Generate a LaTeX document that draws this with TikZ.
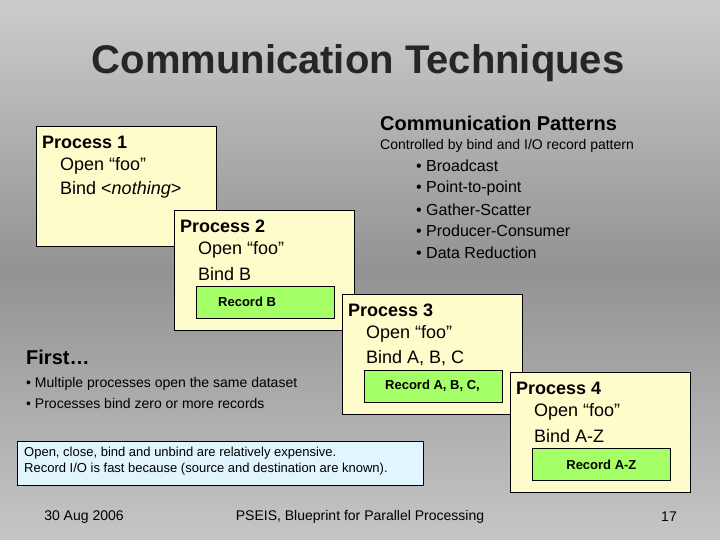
\documentclass[tikz,border=0pt]{standalone}
\usepackage{fontspec}
\setmainfont{Liberation Sans}
\begin{document}
\begin{tikzpicture}[x=1pt,y=-1pt,
  proc/.style={draw=black,line width=0.8pt,fill=yellow!20!white,minimum width=180pt,minimum height=120pt,anchor=north west,inner sep=0pt},
  rec/.style={draw=black,line width=0.8pt,fill=green!45!lime!60!white,minimum width=138pt,minimum height=32pt,anchor=north west,inner sep=0pt},
  ptitle/.style={anchor=west,font=\fontsize{18}{20}\selectfont\bfseries,inner sep=0pt},
  pline/.style={anchor=west,font=\fontsize{18}{20}\selectfont,inner sep=0pt},
  rtext/.style={anchor=west,font=\fontsize{13}{15}\selectfont\bfseries,inner sep=0pt},
  small/.style={anchor=west,font=\fontsize{14}{16}\selectfont,inner sep=0pt},
  bul/.style={anchor=west,font=\fontsize{16}{18}\selectfont,inner sep=0pt},
  foot/.style={font=\fontsize{14}{16}\selectfont,inner sep=0pt}]
\useasboundingbox (0,0) rectangle (720,540);
\shade[top color=gray!40!white,bottom color=gray!85!white] (0,0) rectangle (720,270);
\shade[top color=gray!85!white,bottom color=gray!45!white] (0,270) rectangle (720,540);
% title
\node (title) [font=\fontsize{40}{44}\selectfont\bfseries,text=black!85] at (358,63) {Communication Techniques};
% patterns
\node (cp) [anchor=west,font=\fontsize{20}{22}\selectfont\bfseries,inner sep=0pt] at (380,123) {Communication Patterns};
\node (cpc) [small] at (380,146) {Controlled by bind and I/O record pattern};
\node (b1) [bul] at (416,166) {\textbullet\ Broadcast};
\node (b2) [bul] at (416,188) {\textbullet\ Point-to-point};
\node (b3) [bul] at (416,210) {\textbullet\ Gather-Scatter};
\node (b4) [bul] at (416,231) {\textbullet\ Producer-Consumer};
\node (b5) [bul] at (416,253) {\textbullet\ Data Reduction};
% first
\node (first) [anchor=west,font=\fontsize{20}{22}\selectfont\bfseries,inner sep=0pt] at (26,357) {First…};
\node (f1) [small] at (26,384) {\textbullet\ Multiple processes open the same dataset};
\node (f2) [small] at (26,403) {\textbullet\ Processes bind zero or more records};
% process 1
\node (p1) [proc] at (36,126) {};
\node (p1t) [ptitle] at (42,142) {Process 1};
\node (p1a) [pline] at (60,166) {Open “foo”};
\node (p1b) [pline] at (60,190) {Bind <\textit{nothing}>};
% process 2
\node (p2) [proc] at (174,210) {};
\node (p2t) [ptitle] at (180,226) {Process 2};
\node (p2a) [pline] at (198,250) {Open “foo”};
\node (p2b) [pline] at (198,274) {Bind B};
\node (r2) [rec] at (196,286) {};
\node (r2t) [rtext] at (218,302) {Record B};
% process 3
\node (p3) [proc] at (342,294) {};
\node (p3t) [ptitle] at (348,310) {Process 3};
\node (p3a) [pline] at (366,334) {Open “foo”};
\node (p3b) [pline] at (366,358) {Bind A, B, C};
\node (r3) [rec] at (364,370) {};
\node (r3t) [rtext] at (385,386) {Record A, B, C,};
% process 4
\node (p4) [proc] at (510,372) {};
\node (p4t) [ptitle] at (516,388) {Process 4};
\node (p4a) [pline] at (534,412) {Open “foo”};
\node (p4b) [pline] at (534,436) {Bind A-Z};
\node (r4) [rec] at (532,448) {};
\node (r4t) [font=\fontsize{13}{15}\selectfont\bfseries,inner sep=0pt] at (r4.center) {Record A-Z};
% note
\node (note) [draw=black,line width=0.8pt,fill=cyan!12!white,minimum width=406pt,minimum height=44pt,anchor=north west,inner sep=0pt] at (17,441) {};
\node (n1) [anchor=west,font=\fontsize{13}{15}\selectfont,inner sep=0pt] at (24,453) {Open, close, bind and unbind are relatively expensive.};
\node (n2) [anchor=west,font=\fontsize{13}{15}\selectfont,inner sep=0pt] at (24,469) {Record I/O is fast because (source and destination are known).};
% footer
\node (d) [foot] at (84,517) {30 Aug 2006};
\node (c) [foot] at (360,517) {PSEIS, Blueprint for Parallel Processing};
\node (n) [foot] at (669,517) {17};
\end{tikzpicture}
\end{document}
